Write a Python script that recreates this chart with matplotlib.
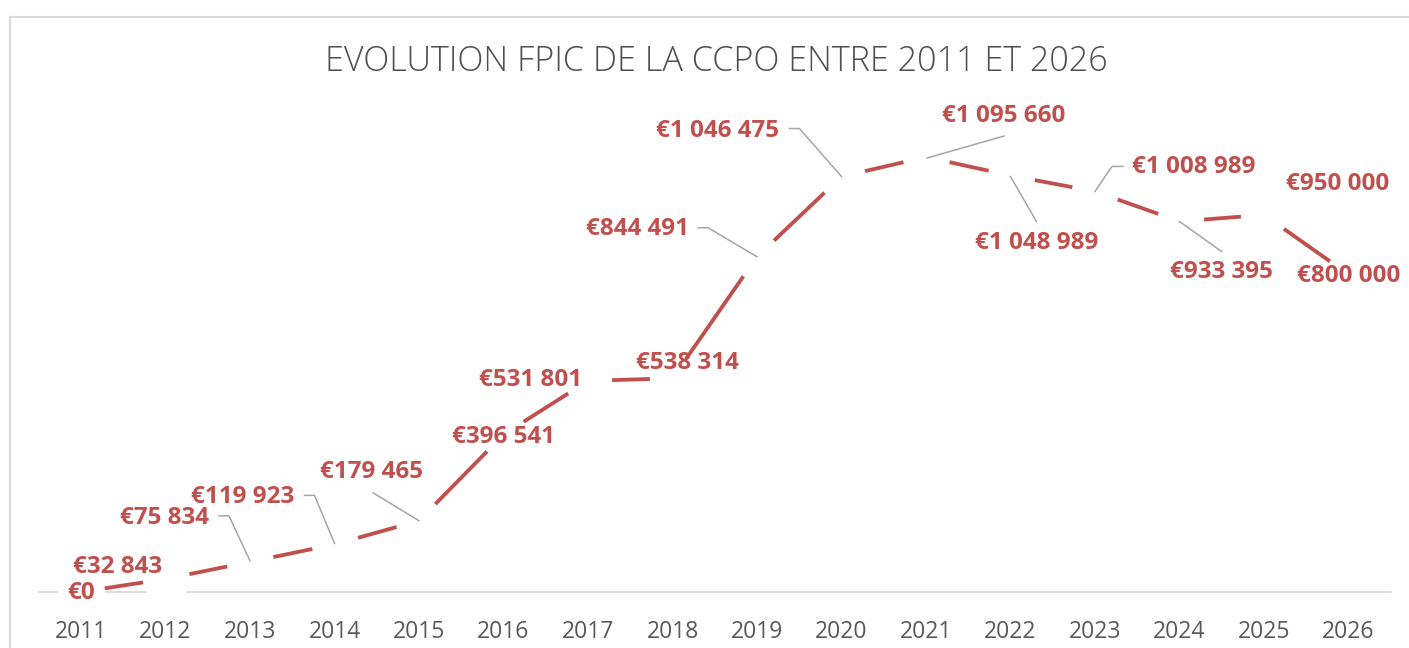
import matplotlib
matplotlib.use("Agg")
import matplotlib.pyplot as plt
from matplotlib.transforms import IdentityTransform
from matplotlib.lines import Line2D

# données FPIC
annees = ["2011", "2012", "2013", "2014", "2015", "2016", "2017", "2018",
          "2019", "2020", "2021", "2022", "2023", "2024", "2025", "2026"]
fpic = [0, 32843, 75834, 119923, 179465, 396541, 531801, 538314,
        844491, 1046475, 1095660, 1048989, 1008989, 933395, 950000, 800000]

# position des étiquettes (décalage en pixels, x droite / y haut)
decalages = [(0, -1), (-48, 12), (-85, 44), (-92, 47), (-47, 49), (0, -2),
             (-57, 1), (15, 15), (-120, 28), (-124, 46), (78, 41), (26, -67),
             (99, 24), (42, -51), (74, 31), (0, -2)]
# lignes de repère (points en pixels relatifs au point de données)
reperes = {
    2: [(-31, 46), (-21, 46), (0, 1)],
    3: [(-30, 49), (-20, 49), (0, 1)],
    4: [(-46, 28), (0, 0)],
    8: [(-59, 29), (-49, 29), (0, 0)],
    9: [(-52, 48), (-42, 48), (0, 0)],
    10: [(78, 21), (1, -1)],
    11: [(0, -1), (26, -46)],
    12: [(28, 25), (17, 25), (0, 0)],
    13: [(0, 0), (42, -30)],
}

rouge = "#C0504D"
gris = "#595959"

fig = plt.figure(figsize=(14.09, 6.48), dpi=100)
W, H = 1409, 648

# cadre du graphique
fig.add_artist(Line2D([9.5 / W, 1], [1 - 17 / H, 1 - 17 / H], transform=fig.transFigure, color="#D9D9D9", lw=1.5))
fig.add_artist(Line2D([9.5 / W, 9.5 / W], [0, 1 - 17 / H], transform=fig.transFigure, color="#D9D9D9", lw=1.5))

ax = fig.add_axes([38.75 / W, 56 / H, 1352 / W, 476.4 / H])
x = list(range(len(annees)))
ax.plot(x, fpic, color=rouge, lw=2.75, marker="o", ms=33,
        mfc="white", mec="white", zorder=3, clip_on=False)

ax.set_xlim(-0.5, 15.5)
ax.set_ylim(0, 1200000)
for s in ["top", "left", "right"]:
    ax.spines[s].set_visible(False)
ax.spines["bottom"].set_color("#D9D9D9")
ax.spines["bottom"].set_linewidth(1.3)
ax.set_yticks([])
ax.set_xticks(x)
ax.set_xticklabels(annees, fontsize=16.5, color=gris, family="Open Sans")
ax.tick_params(axis="x", length=0, pad=20)

for i, v in enumerate(fpic):
    txt = "€" + f"{v:,}".replace(",", " ")
    ax.annotate(txt, (i, v), xytext=decalages[i], textcoords="offset pixels",
                ha="center", va="center", fontsize=17.5, fontweight="bold",
                color=rouge, family="Open Sans", zorder=6, annotation_clip=False)

for i, pts in reperes.items():
    px, py = ax.transData.transform((i, fpic[i]))
    xs = [px + dx for dx, dy in pts]
    ys = [py + dy for dx, dy in pts]
    ax.add_line(Line2D(xs, ys, transform=IdentityTransform(), color="#A6A6A6", lw=1.1, zorder=5))

fig.text(716 / W, 1 - 62 / H, "EVOLUTION FPIC DE LA CCPO ENTRE 2011 ET 2026",
         ha="center", va="center", fontsize=24.6, color="#505050",
         family="Open Sans", fontweight="light")

fig.savefig("out.png", dpi=100)
